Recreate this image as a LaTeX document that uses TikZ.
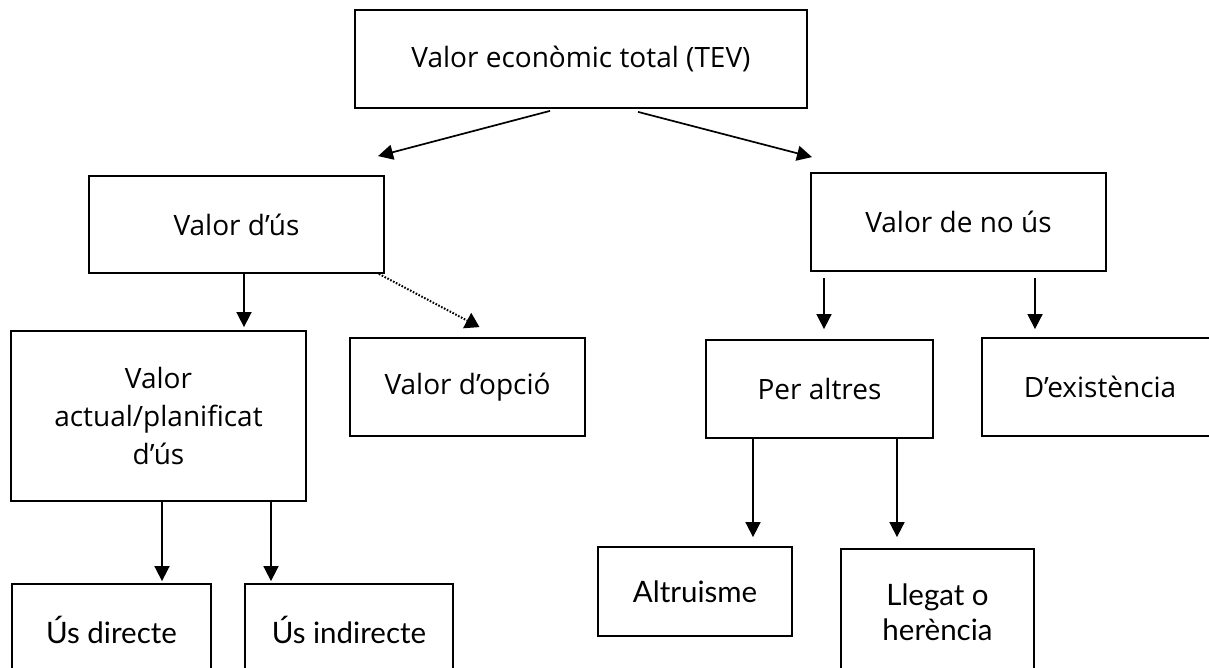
\documentclass[tikz,border=0pt]{standalone}
\usepackage{fontspec}
\setmainfont{Open Sans}
\newfontfamily\avfont{Lato}
\usetikzlibrary{arrows.meta}
\begin{document}
\begin{tikzpicture}[x=1pt,y=-1pt,
  box/.style={draw, line width=1.8pt, inner sep=0pt, align=center, font=\fontsize{28}{38}\selectfont},
  abox/.style={box, font=\avfont\fontsize{29.5}{35}\selectfont},
  arr/.style={line width=1.7pt, -{Triangle[length=15pt,width=15pt]}},
  darr/.style={line width=2pt, dash pattern=on 1.6pt off 1.6pt, -{Triangle[length=14pt,width=17pt]}}]
\clip (0,0) rectangle (1209,668);
\fill[white] (0,0) rectangle (1209,668);
\node[box, minimum width=452pt, minimum height=98pt] (tev) at (581,59) {Valor econòmic total (TEV)};
\node[box, minimum width=295pt, minimum height=97pt] (us) at (236.5,224.5) {Valor d’ús};
\node[box, minimum width=295pt, minimum height=98pt] (nous) at (958.5,222) {Valor de no ús};
\node[box, minimum width=295pt, minimum height=170pt] (actual) at (158.5,416) {Valor\\actual/planificat\\d’ús};
\node[box, minimum width=235pt, minimum height=98pt] (opcio) at (467.5,387) {Valor d’opció};
\node[box, minimum width=227pt, minimum height=98pt] (altres) at (819.5,389) {Per altres};
\node[box, minimum width=236pt, minimum height=98pt] (exist) at (1100,387) {D’existència};
\node[abox, minimum width=194pt, minimum height=89pt] (altru) at (695,591.5) {Altruisme};
\node[abox, minimum width=193pt, minimum height=127pt] (llegat) at (937.5,612.5) {Llegat o\\herència};
\node[abox, minimum width=199pt, minimum height=92pt] (directe) at (111.5,630) {Ús directe};
\node[abox, minimum width=208pt, minimum height=92pt] (indirecte) at (349,630) {Ús indirecte};

\draw[arr] ([xshift=-31pt,yshift=-2pt]tev.south) -- ([xshift=141.5pt,yshift=19pt]us.north);
\draw[arr] ([xshift=57pt,yshift=-3pt]tev.south) -- ([xshift=-146.5pt,yshift=15pt]nous.north);
\draw[arr] ([xshift=7.5pt]us.south) -- ([xshift=85.5pt,yshift=3pt]actual.north);
\draw[darr] ([xshift=-6pt]us.south east) -- ([xshift=12pt,yshift=10pt]opcio.north);
\draw[arr] ([xshift=-134.5pt,yshift=-6pt]nous.south) -- ([xshift=4.5pt,yshift=10pt]altres.north);
\draw[arr] ([xshift=76.5pt,yshift=-6pt]nous.south) -- ([xshift=-65pt,yshift=8pt]exist.north);
\draw[arr] ([xshift=3.5pt]actual.south) -- ([xshift=50.5pt,yshift=2pt]directe.north);
\draw[arr] ([xshift=112.5pt]actual.south) -- ([xshift=-78pt,yshift=2pt]indirecte.north);
\draw[arr] ([xshift=-66.5pt]altres.south) -- ([xshift=58pt,yshift=9pt]altru.north);
\draw[arr] ([xshift=77.5pt]altres.south) -- ([xshift=-40.5pt,yshift=11pt]llegat.north);
\end{tikzpicture}
\end{document}
